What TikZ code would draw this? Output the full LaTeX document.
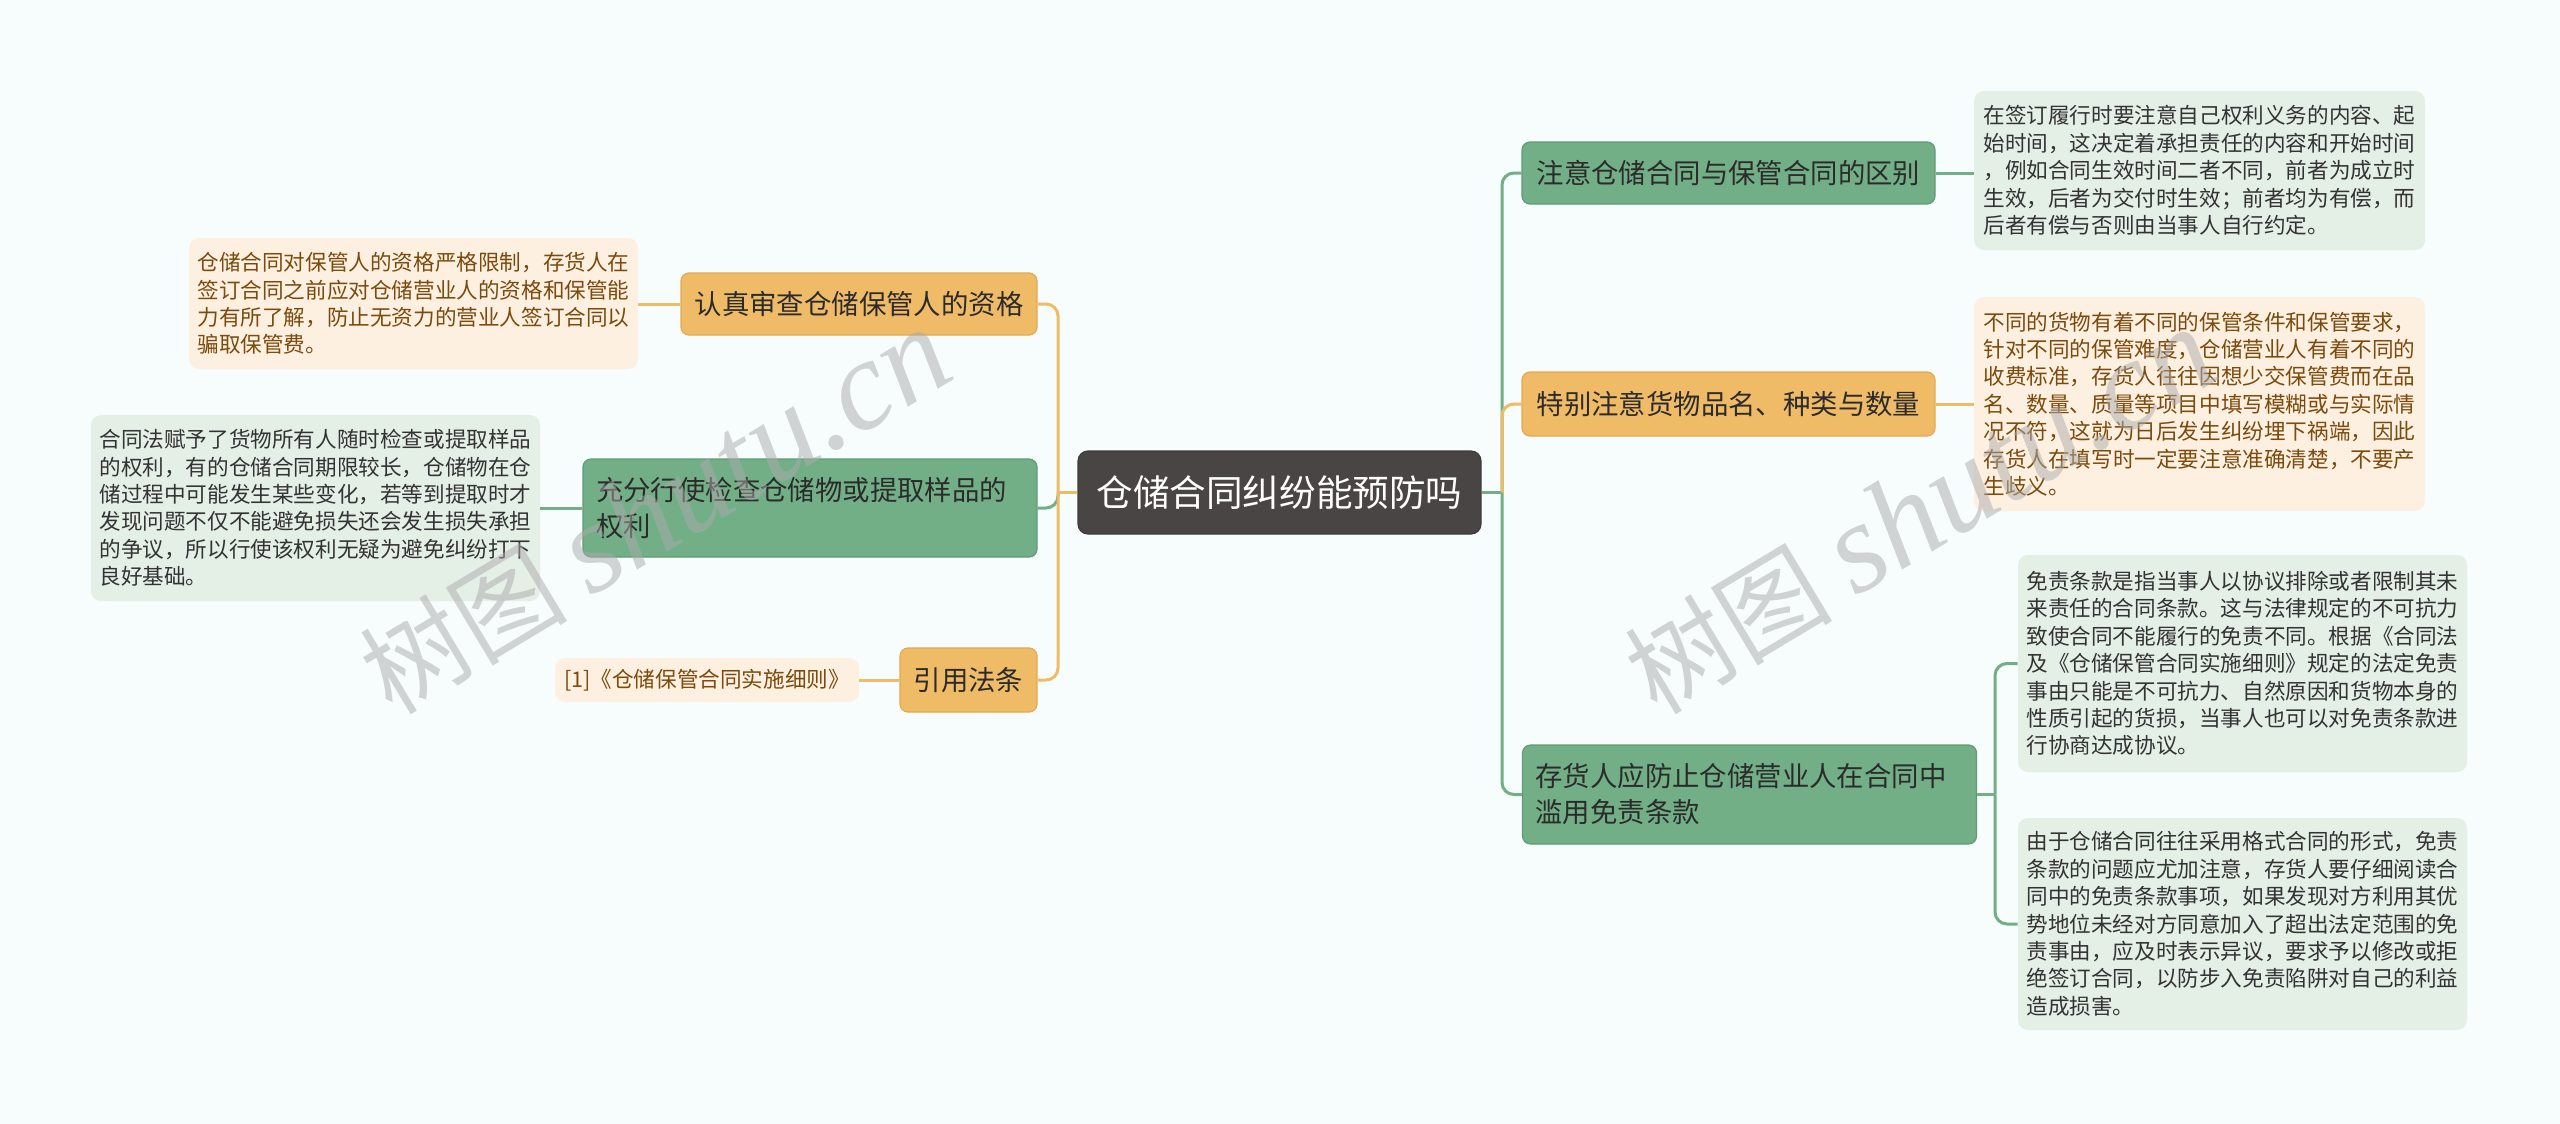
\documentclass[tikz,border=0pt]{standalone}
\usepackage{fontspec}
\setmainfont{Noto Sans CJK SC}
\newfontfamily\wmserif{Liberation Serif}
\usetikzlibrary{calc}
\definecolor{bgc}{HTML}{F7FCFC}
\definecolor{rootc}{HTML}{4A4545}
\definecolor{orc}{HTML}{F0BB66}
\definecolor{ordark}{HTML}{E2AA55}
\definecolor{grc}{HTML}{72AF87}
\definecolor{grdark}{HTML}{5F9C75}
\definecolor{orleaf}{HTML}{FDF0E1}
\definecolor{grleaf}{HTML}{E4EFE6}
\definecolor{ortext}{HTML}{7B4A0C}
\definecolor{grtext}{HTML}{333333}
\definecolor{brtext}{HTML}{2B2B2B}
\definecolor{wmc}{HTML}{ABABAB}
\begin{document}
\begin{tikzpicture}[x=0.5pt,y=-0.5pt,
  rootbox/.style={fill=rootc, draw=rootc!85!black, line width=0.6pt, rounded corners=5pt, text=white,
    font=\fontsize{18.3}{22}\selectfont, minimum width=201.5pt, minimum height=41.5pt, inner sep=0pt},
  obr/.style={fill=orc, draw=ordark, line width=0.6pt, rounded corners=4pt, text=brtext,
    font=\fontsize{13.7}{18}\selectfont, inner sep=0pt, align=left},
  gbr/.style={fill=grc, draw=grdark, line width=0.6pt, rounded corners=4pt, text=brtext,
    font=\fontsize{13.7}{18}\selectfont, inner sep=0pt, align=left},
  twoline/.style={inner xsep=6.5pt, text width=214pt},
  oleaf/.style={fill=orleaf, rounded corners=5pt, text=ortext,
    font=\fontsize{10.8}{13.7}\selectfont, align=left, inner sep=0pt},
  gleaf/.style={fill=grleaf, rounded corners=5pt, text=grtext,
    font=\fontsize{10.8}{13.7}\selectfont, align=left, inner sep=0pt},
  olink/.style={draw=orc, line width=1.5pt, rounded corners=6pt},
  glink/.style={draw=grc, line width=1.5pt, rounded corners=6pt},
  wmark/.style={rotate=31, text=wmc, opacity=0.5, font=\fontsize{52}{52}\selectfont, inner sep=0pt}
]
\fill[bgc] (0,0) rectangle (2560,1124);
\useasboundingbox (0,0) rectangle (2560,1124);

% root
\node[rootbox] (root) at (1279.5,492.5) {仓储合同纠纷能预防吗};

% left branches
\node[obr, minimum width=178pt, minimum height=31pt] (L1) at (859,304) {认真审查仓储保管人的资格};
\node[gbr, twoline, minimum height=49pt] (L2) at (810,508) {充分行使检查仓储物或提取样品的\\权利};
\node[obr, minimum width=68.5pt, minimum height=32pt] (L3) at (968.5,680) {引用法条};

% left leaves
\node[oleaf, minimum width=224.5pt, minimum height=65.5pt] (L1l) at (413.5,303.5)
 {仓储合同对保管人的资格严格限制，存货人在\\签订合同之前应对仓储营业人的资格和保管能\\力有所了解，防止无资力的营业人签订合同以\\骗取保管费。};
\node[gleaf, minimum width=224.5pt, minimum height=93pt] (L2l) at (315.5,508)
 {合同法赋予了货物所有人随时检查或提取样品\\的权利，有的仓储合同期限较长，仓储物在仓\\储过程中可能发生某些变化，若等到提取时才\\发现问题不仅不能避免损失还会发生损失承担\\的争议，所以行使该权利无疑为避免纠纷打下\\良好基础。};
\node[oleaf, minimum width=152pt, minimum height=22pt] (L3l) at (707,680)
 {[1]《仓储保管合同实施细则》};

% right branches
\node[gbr, minimum width=206.5pt, minimum height=31pt] (R1) at (1728.5,173) {注意仓储合同与保管合同的区别};
\node[obr, minimum width=206.5pt, minimum height=32pt] (R2) at (1728.5,404) {特别注意货物品名、种类与数量};
\node[gbr, twoline, minimum height=49.5pt] (R3) at (1749.5,794.5) {存货人应防止仓储营业人在合同中\\滥用免责条款};

% right leaves
\node[gleaf, minimum width=225.5pt, minimum height=79.5pt] (R1l) at (2199.5,170.5)
 {在签订履行时要注意自己权利义务的内容、起\\始时间，这决定着承担责任的内容和开始时间\\，例如合同生效时间二者不同，前者为成立时\\生效，后者为交付时生效；前者均为有偿，而\\后者有偿与否则由当事人自行约定。};
\node[oleaf, minimum width=225.5pt, minimum height=107pt] (R2l) at (2199.5,404)
 {不同的货物有着不同的保管条件和保管要求，\\针对不同的保管难度，仓储营业人有着不同的\\收费标准，存货人往往因想少交保管费而在品\\名、数量、质量等项目中填写模糊或与实际情\\况不符，这就为日后发生纠纷埋下祸端，因此\\存货人在填写时一定要注意准确清楚，不要产\\生歧义。};
\node[gleaf, minimum width=224.5pt, minimum height=108.5pt] (R3a) at (2242.5,663.5)
 {免责条款是指当事人以协议排除或者限制其未\\来责任的合同条款。这与法律规定的不可抗力\\致使合同不能履行的免责不同。根据《合同法\\及《仓储保管合同实施细则》规定的法定免责\\事由只能是不可抗力、自然原因和货物本身的\\性质引起的货损，当事人也可以对免责条款进\\行协商达成协议。};
\node[gleaf, minimum width=224.5pt, minimum height=106pt] (R3b) at (2242.5,924)
 {由于仓储合同往往采用格式合同的形式，免责\\条款的问题应尤加注意，存货人要仔细阅读合\\同中的免责条款事项，如果发现对方利用其优\\势地位未经对方同意加入了超出法定范围的免\\责事由，应及时表示异议，要求予以修改或拒\\绝签订合同，以防步入免责陷阱对自己的利益\\造成损害。};

% connectors
\coordinate (lt) at (1058,492.5);
\coordinate (rt) at (1502,492.5);
\coordinate (rj) at (1995,794.5);

\draw[olink] (root.west) -- (lt);
\draw[glink] (lt) |- (L2.east);
\draw[olink] (lt) |- (L1.east);
\draw[olink] (lt) |- (L3.east);

\draw[glink] (root.east) -- (rt);
\draw[glink] (rt) |- (R1.west);
\draw[olink] (rt) |- (R2.west);
\draw[glink] (rt) |- (R3.west);

\draw[olink] (L1.west) -- (L1.west -| L1l.east);
\draw[glink] (L2.west) -- (L2.west -| L2l.east);
\draw[olink] (L3.west) -- (L3.west -| L3l.east);
\draw[glink] (R1.east) -- (R1.east -| R1l.west);
\draw[olink] (R2.east) -- (R2.east -| R2l.west);
\draw[glink] (R3.east) -- (rj);
\draw[glink] (rj) |- (R3a.west);
\draw[glink] (rj) |- (R3b.west);

% watermarks
\node[wmark] (wm1) at (655,512) {树图 {\wmserif\itshape\fontsize{64}{64}\selectfont shutu.cn}};
\node[wmark] (wm2) at (1920,512) {树图 {\wmserif\itshape\fontsize{64}{64}\selectfont shutu.cn}};
\end{tikzpicture}
\end{document}
